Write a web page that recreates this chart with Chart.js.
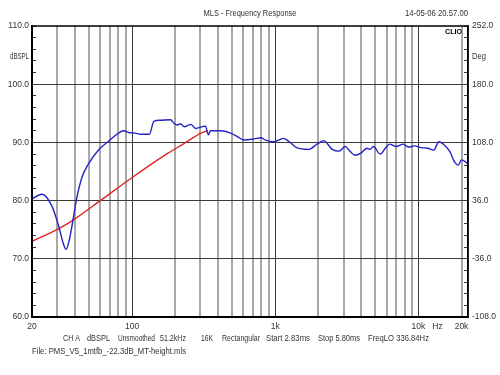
<!DOCTYPE html>
<html>
<head>
<meta charset="utf-8">
<script src="https://cdn.jsdelivr.net/npm/chart.js@4/dist/chart.umd.min.js"></script>
<style>
body{margin:0;background:#fff;}
#wrap{width:500px;height:375px;position:relative;}
</style>
</head>
<body>
<div id="wrap"><canvas id="grafico"></canvas></div>
<script>
// dados (Hz / dBSPL)
const freqAzul=[20,23.5,27.6,30.8,33,34.6,36.4,39,40.8,44.8,49.9,58.3,68.6,80.3,87.5,94.5,105,115,132,142,158,186,196,207,218,231,257,278,310,326,341,353,414,488,544,605,712,795,856,977,1140,1240,1410,1710,1960,2180,2500,2800,3080,3320,3600,3940,4370,4600,4850,5400,6000,6300,7000,7800,8600,9400,10400,11600,12800,13900,15400,16600,17900,19000,20000,21700,22200];
const dbAzul=[80.3,81.1,79.0,75.5,72.7,71.6,73.2,77.2,80.1,84.1,86.4,88.7,90.2,91.6,92.0,91.7,91.6,91.4,91.4,93.6,93.8,93.9,93.3,93.0,93.2,92.7,93.1,92.4,92.7,92.8,91.3,92.0,92.0,91.6,91.0,90.4,90.6,90.8,90.4,90.1,90.7,90.2,89.1,88.8,89.7,90.3,88.8,88.5,89.3,88.5,87.8,88.1,89.0,88.8,89.3,88.0,89.3,89.7,89.3,89.7,89.2,89.4,89.1,89.0,88.7,90.1,89.4,88.4,86.6,86.1,87.0,86.5,86.2];

const freqVerm=[20,30.8,39,60,102,177,230,303,336];
const dbVerm=[73.0,75.2,76.7,80.0,84.1,88.1,89.8,91.6,92.0];

const ticksX=[20,30,40,50,60,70,80,90,100,200,300,400,500,600,700,800,900,1000,2000,3000,4000,5000,6000,7000,8000,9000,10000,13600,20000];
const rotulosX={20:"20",100:"100",1000:"1k",10000:"10k",13600:"Hz",20000:"20k"};

// texto, x, largura
const rodape=[["CH A",63,17],["dBSPL",87,23],["Unsmoothed",118,37],["51.2kHz",160,26],["16K",201,12],["Rectangular",222,38],["Start 2.83ms",266,44],["Stop 5.80ms",318,42],["FreqLO 336.84Hz",368,61]];

const fonte="'Liberation Sans',Arial";

const textos={
id:"textos",
afterDraw(chart){
const c=chart.ctx;
const a=chart.chartArea;
c.save();
c.strokeStyle="#000";
c.lineWidth=1.5;
c.strokeRect(a.left,a.top,a.right-a.left,a.bottom-a.top);
c.fillStyle="#333";
c.font="9px "+fonte;
c.textBaseline="middle";
c.textAlign="center";
c.fillText("MLS - Frequency Response",250,14,93);
c.textAlign="right";
c.fillText("14-05-06 20.57.00",a.right,14,63);
c.fillText("dBSPL",29,57,19);
c.textAlign="left";
c.fillText("Deg",472,57,14);
rodape.forEach(r=>c.fillText(r[0],r[1],339,r[2]));
c.fillText("File: PMS_V5_1mtfb_-22.3dB_MT-height.mls",32,352,154);
c.fillStyle="#000";
c.font="bold 8px "+fonte;
c.textAlign="right";
c.fillText("CLIO",a.right-6,32,17);
c.restore();
}
};

new Chart(document.getElementById("grafico"),{
type:"line",
data:{datasets:[
{label:"Resposta",data:freqAzul.map((f,i)=>({x:f,y:dbAzul[i]})),borderColor:"#2323c8",borderWidth:1.4,pointRadius:0,cubicInterpolationMode:"monotone",yAxisID:"y"},
{label:"FreqLO",data:freqVerm.map((f,i)=>({x:f,y:dbVerm[i]})),borderColor:"#e02424",borderWidth:1.4,pointRadius:0,cubicInterpolationMode:"monotone",yAxisID:"y"}
]},
plugins:[textos],
options:{
responsive:true,
maintainAspectRatio:false,
animation:false,
layout:{padding:{top:26,left:0,right:0,bottom:0}},
plugins:{legend:{display:false},tooltip:{enabled:false}},
scales:{
x:{
type:"logarithmic",min:20,max:22200,position:"bottom",
afterBuildTicks:s=>{s.ticks=ticksX.map(v=>({value:v}));},
afterFit:s=>{s.height=58;},
ticks:{autoSkip:false,maxRotation:0,padding:5,color:"#333",font:{family:fonte,size:8.5},
callback:(v)=>rotulosX[v]||""},
grid:{drawTicks:false,
color:ctx=>{const v=ctx.tick&&ctx.tick.value;if(v===13600)return "rgba(0,0,0,0)";if(v===100||v===1000||v===10000)return "#3a3a3a";return "#a8a8a8";},
lineWidth:ctx=>{const v=ctx.tick&&ctx.tick.value;return (v===100||v===1000||v===10000)?1:2;}},
border:{color:"#000",width:2}
},
y:{
min:60,max:110,position:"left",
afterFit:s=>{s.width=32;},
ticks:{stepSize:2,autoSkip:false,padding:7,color:"#333",font:{family:fonte,size:8.5},
callback:v=>(Math.round(v)%10===0)?v.toFixed(1):""},
grid:{tickLength:-4,tickColor:"#333",
color:ctx=>{const v=ctx.tick&&ctx.tick.value;return (v%10===0&&v>60&&v<110)?"#3a3a3a":"rgba(0,0,0,0)";},
lineWidth:1},
border:{color:"#000",width:2}
},
y2:{
min:-108,max:252,position:"right",
afterFit:s=>{s.width=32;},
ticks:{stepSize:14.4,autoSkip:false,padding:8,color:"#333",font:{family:fonte,size:8.5},
callback:v=>(Math.round((v+108)/14.4)%5===0)?v.toFixed(1):""},
grid:{drawOnChartArea:false,tickLength:-4,tickColor:"#333"},
border:{color:"#000",width:1.5}
}
}
}
});
</script>
</body>
</html>
